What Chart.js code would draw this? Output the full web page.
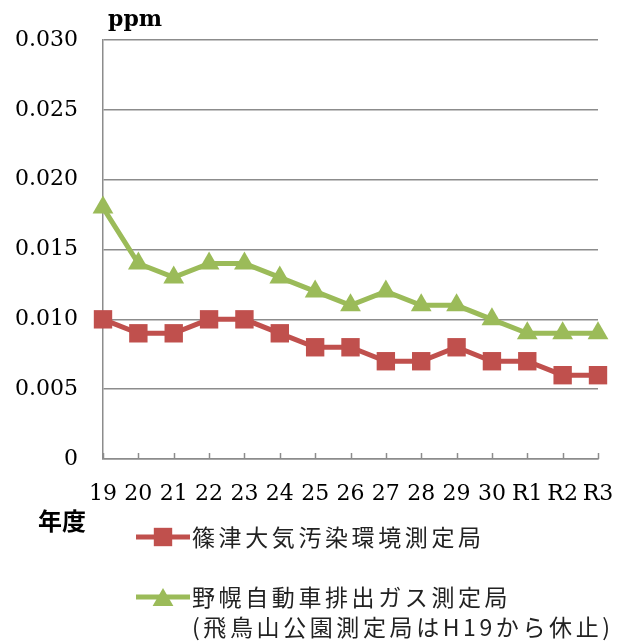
<!DOCTYPE html>
<html lang="ja">
<head>
<meta charset="UTF-8">
<title>ppm chart</title>
<script src="https://cdn.jsdelivr.net/npm/chart.js"></script>
<style>
  html, body { margin: 0; padding: 0; background: #fff; }
  #wrap { width: 618px; height: 641px; }
</style>
</head>
<body>
<div id="wrap"><canvas id="c" width="618" height="641"></canvas></div>
<script>
// data
const years = ['19', '20', '21', '22', '23', '24', '25', '26', '27', '28', '29', '30', 'R1', 'R2', 'R3'];
const shinotsu = [0.010, 0.009, 0.009, 0.010, 0.010, 0.009, 0.008, 0.008, 0.007, 0.007, 0.008, 0.007, 0.007, 0.006, 0.006];
const nopporo = [0.018, 0.014, 0.013, 0.014, 0.014, 0.013, 0.012, 0.011, 0.012, 0.011, 0.011, 0.010, 0.009, 0.009, 0.009];
const seriesNames = [['篠津大気汚染環境測定局'], ['野幌自動車排出ガス測定局', '(飛鳥山公園測定局はH19から休止)']];
const unitLabel = 'ppm';
const xTitle = '年度';

const RED = '#C0504D';
const GREEN = '#9BBB59';
const GRID = '#8c8c8c';

// extra text + inner tick marks + legend
const extras = {
  id: 'extras',
  afterDraw(chart) {
    const ctx = chart.ctx;
    const area = chart.chartArea;
    const xs = chart.scales.x;
    ctx.save();
    // small tick marks pointing up from the x axis
    ctx.strokeStyle = GRID;
    ctx.lineWidth = 1.5;
    for (let i = 0; i < years.length; i++) {
      const px = Math.round(xs.getPixelForTick(i)) + 0.5;
      ctx.beginPath();
      ctx.moveTo(px, area.bottom);
      ctx.lineTo(px, area.bottom - 6);
      ctx.stroke();
    }
    ctx.fillStyle = '#000';
    ctx.textBaseline = 'middle';
    ctx.textAlign = 'left';
    ctx.font = 'bold 22px "DejaVu Serif"';
    ctx.fillText(unitLabel, 108, 20);
    ctx.font = 'bold 24px "Noto Sans CJK JP"';
    ctx.fillText(xTitle, 38, 521);

    // legend
    const items = [
      { color: RED, style: 'rect', r: 13, y: 537 },
      { color: GREEN, style: 'triangle', r: 12, y: 597 }
    ];
    ctx.font = '23px "Noto Sans CJK JP"';
    ctx.letterSpacing = '3.6px';
    items.forEach((it, k) => {
      ctx.strokeStyle = it.color;
      ctx.lineWidth = 5;
      ctx.beginPath();
      ctx.moveTo(136, it.y);
      ctx.lineTo(190, it.y);
      ctx.stroke();
      ctx.fillStyle = it.color;
      Chart.helpers.drawPoint(ctx, { pointStyle: it.style, radius: it.r, rotation: 0, borderWidth: 0 }, 163, it.y + (it.style === 'triangle' ? 3 : 0));
      ctx.fillStyle = '#222';
      seriesNames[k].forEach((line, j) => {
        ctx.fillText(line, 192, it.y + j * 30);
      });
    });
    ctx.restore();
  }
};

new Chart(document.getElementById('c'), {
  type: 'line',
  data: {
    labels: years,
    datasets: [
      {
        label: seriesNames[0].join(''),
        data: shinotsu,
        borderColor: RED,
        backgroundColor: RED,
        borderWidth: 5,
        pointStyle: 'rect',
        pointRadius: 13,
        pointBorderWidth: 0,
        tension: 0
      },
      {
        label: seriesNames[1].join(''),
        data: nopporo,
        borderColor: GREEN,
        backgroundColor: GREEN,
        borderWidth: 5,
        pointStyle: 'triangle',
        pointRadius: 12,
        pointBorderWidth: 0,
        tension: 0
      }
    ]
  },
  options: {
    responsive: false,
    animation: false,
    layout: { padding: { top: 40, right: 20, left: 0, bottom: 0 } },
    plugins: {
      legend: { display: false },
      tooltip: { enabled: false }
    },
    scales: {
      x: {
        offset: false,
        grid: { display: false, drawTicks: false },
        border: { display: true, color: GRID, width: 1.5 },
        ticks: {
          autoSkip: false,
          maxRotation: 0,
          padding: 22,
          color: '#000',
          font: { family: 'DejaVu Serif', size: 22 }
        },
        afterFit(scale) {
          scale.height = 182;
          scale.paddingRight = 0;
          scale.paddingLeft = 0;
        }
      },
      y: {
        min: 0,
        max: 0.030,
        grid: { color: GRID, lineWidth: 1.5, drawTicks: false },
        border: { display: true, color: GRID, width: 1.5 },
        ticks: {
          stepSize: 0.005,
          padding: 25,
          color: '#000',
          font: { family: 'DejaVu Serif', size: 22 },
          callback: v => v === 0 ? '0' : v.toFixed(3)
        },
        afterFit(scale) { scale.width = 103; }
      }
    }
  },
  plugins: [extras]
});
</script>
</body>
</html>
